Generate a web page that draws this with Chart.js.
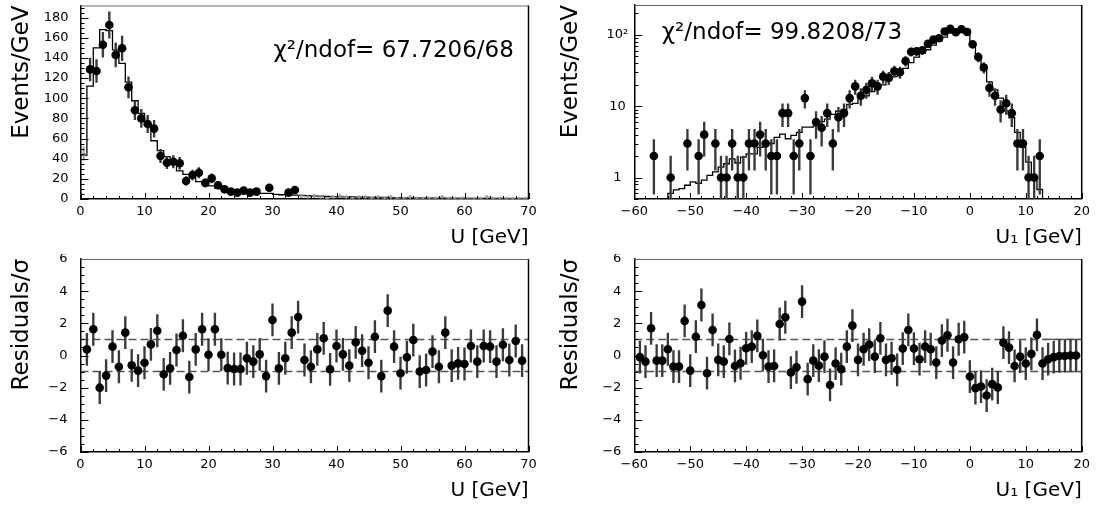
<!DOCTYPE html>
<html>
<head>
<meta charset="utf-8">
<script src="https://cdn.jsdelivr.net/npm/chart.js@4.4.0/dist/chart.umd.min.js"></script>
<style>
  html, body { margin: 0; padding: 0; background: #fff; }
  #wrap { position: relative; width: 1099px; height: 508px; overflow: hidden; }
  #wrap canvas { position: absolute; }
</style>
</head>
<body>
<div id="wrap">
  <canvas id="uDist"  width="549" height="254" style="left:0;top:0"></canvas>
  <canvas id="u1Dist" width="550" height="254" style="left:549px;top:0"></canvas>
  <canvas id="uRes"   width="549" height="254" style="left:0;top:254px"></canvas>
  <canvas id="u1Res"  width="550" height="254" style="left:549px;top:254px"></canvas>
</div>
<script>
// ---------- U distribution (events per GeV, 1 GeV bins) ----------
const uDataX = [1.5, 2.5, 3.5, 4.5, 5.5, 6.5, 7.5, 8.5, 9.5, 10.5, 11.5, 12.5, 13.5, 14.5, 15.5,
                16.5, 17.5, 18.5, 19.5, 20.5, 21.5, 22.5, 23.5, 24.5, 25.5, 26.5, 27.5, 29.5, 32.5, 33.5];
const uDataY = [128.6, 127, 153, 172.6, 143, 149.5, 110.8, 88, 80, 74.4, 69.8, 42.7, 36, 37, 35.4,
                17.9, 23.8, 26, 16, 20.5, 13.6, 9.6, 7.3, 6.3, 8.3, 6.3, 7.3, 11.2, 6.3, 9];
// low-count bins drawn without markers
const uFaintX = [0.5, 34.5, 35.5, 36.5, 37.5, 38.5, 39.5, 40.5, 41.5, 42.5, 43.5, 44.5, 45.5, 46.5, 47.5,
                 48.5, 49.5, 50.5, 51.5, 52.5, 53.5, 54.5, 55.5, 56.5, 57.5, 58.5, 59.5, 60.5, 61.5,
                 62.5, 63.5, 64.5, 65.5, 66.5, 67.5, 68.5, 69.5];
const uFaintY = [45, 3, 2, 3, 2, 1, 2, 3, 2, 1, 2, 2, 1, 2, 1, 2, 1, 1, 2, 1, 1, 1, 1, 2, 1,
                 1, 1, 1, 1, 1, 2, 1, 1, 1, 1, 1, 1];
// model prediction, bin edges 0..70
const uModelEdge0 = 0;
const uModel = [43.6, 112, 150, 168, 167, 148, 134.6, 116, 97.5, 85, 73.4, 57.8, 48, 42, 35.4,
                28, 24.5, 21, 17.2, 15, 13, 10.6, 9, 8, 7.3, 6.3, 6.3, 5.5, 5.5, 5.5,
                4.5, 4.2, 4, 3.8, 3.5, 3.3, 3, 2.8, 2.6, 2.4, 2.2, 2.1, 2, 1.9, 1.8,
                1.7, 1.6, 1.5, 1.4, 1.3, 1.2, 1.15, 1.1, 1.05, 1, 0.95, 0.9, 0.85, 0.8, 0.75,
                0.7, 0.65, 0.6, 0.58, 0.55, 0.5, 0.47, 0.44, 0.42, 0.4];

// ---------- U1 distribution (log scale) ----------
const u1DataX = [-56.5, -53.5, -50.5, -48.5, -47.5, -45.5, -44.5, -43.5, -42.5, -41.5, -40.5,
                 -39.5, -38.5, -37.5, -36.5, -35.5, -34.5, -33.5, -32.5, -31.5, -30.5, -29.5,
                 -28.5, -27.5, -26.5, -25.5, -24.5, -23.5, -22.5, -21.5, -20.5, -19.5, -18.5,
                 -17.5, -16.5, -15.5, -14.5, -13.5, -12.5, -11.5, -10.5, -9.5, -8.5, -7.5,
                 -6.5, -5.5, -4.5, -3.5, -2.5, -1.5, -0.5, 0.5, 1.5, 2.5, 3.5, 4.5, 5.5, 6.5,
                 7.5, 8.5, 9.5, 10.5, 11.5, 12.5];
const u1DataY = [2, 1, 3, 2, 4, 3, 1, 1, 3, 1, 1,
                 3, 3, 4, 3, 2, 2, 8, 8, 2, 3, 13,
                 2, 6, 5, 8, 3, 7, 8, 13, 19, 14, 17,
                 21, 19, 26, 25, 31, 30, 43, 58, 59, 61, 75,
                 86, 90, 112, 122, 109, 120, 110, 74, 49, 35, 18, 14, 9, 11,
                 8, 3, 3, 1, 1, 2];
// model prediction, bin edges from -54 upward in 1 GeV steps
const u1ModelEdge0 = -54;
const u1Model = [0.6, 0.67, 0.7, 0.78, 0.87, 0.83, 0.92, 1.07, 1.2, 1.4, 1.56, 1.83, 1.6, 1.93,
                 2.15, 2.15, 2.65, 3.1, 3.0, 3.65, 4.06, 3.5, 3.9, 4.3, 5.1, 5.1, 5.3, 6.1,
                 6.6, 7.7, 8.5, 9.0, 10.6, 11, 13, 14, 16, 18, 20, 23, 26, 29, 34, 41,
                 49, 55, 62, 72, 82, 93, 106, 118, 124, 120, 70, 49, 32, 22, 17, 13, 8.6,
                 6.9, 4.3, 2.65, 1.64, 1.02, 0.68, 0.3];

// ---------- residuals ----------
const uResX0 = 1;
const uResid = [0.38, 1.63, -2.0, -1.25, 0.55, -0.7, 1.42, -0.61, -0.94, -0.45, 0.69, 1.54, -1.17,
                -0.8, 0.34, 1.23, -1.34, 0.38, 1.63, 0.05, 1.63, 0.05, -0.78, -0.84, -0.84, -0.17,
                -0.38, 0.07, -1.28, 2.21, -0.8, -0.17, 1.42, 2.39, -0.28, -0.7, 0.38, 1.07, -0.86,
                0.59, 0.07, -0.63, 0.82, 0.3, -0.45, 1.17, -1.28, 2.79, 0.55, -1.1, -0.11, 0.96,
                -1.0, -0.9, 0.24, -0.7, 1.42, -0.63, -0.49, -0.53, 0.59, -0.38, 0.59, 0.55, -0.38,
                0.67, -0.28, 0.9, -0.32];
const u1ResX0 = -59;
const u1Resid = [-0.1, -0.38, 1.69, -0.32, -0.32, 0.39, -0.69, -0.69, 2.15, -0.94, 1.17, 3.14,
                 -1.1, 1.59, -0.27, -0.38, 1.03, -0.65, -0.48, 0.45, 0.55, 1.22, 0.02, -0.69,
                 -0.65, 1.96, 2.38, -1.06, -0.73, 3.35, -1.47, -0.32, -0.63, -0.07, -1.83, -0.5,
                 -0.85, 0.55, 1.86, -0.27, 0.39, 0.68, -0.07, 1.07, -0.27, -0.17, -0.89, 0.43,
                 1.59, 0.43, -0.23, 0.55, 0.39, -0.44, 0.93, 1.26, -0.44, 1.01, 1.14, -1.31,
                 -2.03, -1.93, -2.49, -1.78, -1.99, 0.8, 0.49, -0.65, -0.07, -0.5, 0.1, 1.28,
                 -0.5, -0.23, -0.1, -0.03, -0.03, 0.0, 0.0];
// range of the empty U1 bins, outlined by a solid ±1 band
const u1EmptyRange = [13, 20];

// ---------- tick labels / texts ----------
const uTitleX = 'U [GeV]';
const u1TitleX = 'U\u2081 [GeV]';
const distTitleY = 'Events/GeV';
const resTitleY = 'Residuals/\u03c3';
const uChi2 = '\u03c7\u00b2/ndof= 67.7206/68';
const u1Chi2 = '\u03c7\u00b2/ndof= 99.8208/73';
const logLabels = { 1: '1', 10: '10', 100: '10\u00b2' };

// ---------- helpers ----------
Chart.defaults.font.family = '"DejaVu Sans", sans-serif';
Chart.defaults.color = '#000';
Chart.defaults.devicePixelRatio = 1;

const minus = v => String(v).replace('-', '\u2212');

function points(xs, ys) { return xs.map((x, i) => ({ x: x, y: ys[i] })); }
function poissonBars(xs, ys, floor) {
  return xs.map((x, i) => {
    const s = Math.sqrt(ys[i]);
    return { x: x, y: [Math.max(ys[i] - s, floor), ys[i] + s] };
  });
}
function unitBars(xs, ys) { return xs.map((x, i) => ({ x: x, y: [ys[i] - 1, ys[i] + 1] })); }
function stepPoints(edge0, vals, base) {
  const pts = [{ x: edge0, y: base }];
  vals.forEach((v, i) => pts.push({ x: edge0 + i, y: v }));
  pts.push({ x: edge0 + vals.length, y: vals[vals.length - 1] });
  return pts;
}
function seq(x0, n) { return Array.from({ length: n }, (_, i) => x0 + i); }

// inward tick marks, frame, and fit-statistics text
const frameTicks = {
  id: 'frameTicks',
  afterDatasetsDraw(chart, args, o) {
    const { ctx, chartArea: a, scales: { x, y } } = chart;
    ctx.save();
    ctx.strokeStyle = '#000';
    ctx.lineWidth = 1;
    ctx.beginPath();
    // x axis
    const n0 = Math.ceil(x.min / o.xMinor - 1e-9), n1 = Math.floor(x.max / o.xMinor + 1e-9);
    for (let n = n0; n <= n1; n++) {
      const v = n * o.xMinor;
      const major = Math.abs(v / o.xMajor - Math.round(v / o.xMajor)) < 1e-6;
      const px = Math.round(x.getPixelForValue(v)) + 0.5;
      ctx.moveTo(px, a.bottom);
      ctx.lineTo(px, a.bottom - (major ? o.xMajorLen : o.xMinorLen));
    }
    // y axis
    if (o.yLog) {
      for (let d = Math.floor(Math.log10(y.min)); d <= Math.ceil(Math.log10(y.max)); d++) {
        for (let m = 1; m <= 9; m++) {
          const v = m * Math.pow(10, d);
          if (v < y.min || v > y.max) continue;
          const py = Math.round(y.getPixelForValue(v)) + 0.5;
          ctx.moveTo(a.left, py);
          ctx.lineTo(a.left + (m === 1 ? o.yMajorLen : o.yMinorLen), py);
        }
      }
    } else {
      const m0 = Math.ceil(y.min / o.yMinor - 1e-9), m1 = Math.floor(y.max / o.yMinor + 1e-9);
      for (let n = m0; n <= m1; n++) {
        const v = n * o.yMinor;
        const major = Math.abs(v / o.yMajor - Math.round(v / o.yMajor)) < 1e-6;
        const py = Math.round(y.getPixelForValue(v)) + 0.5;
        ctx.moveTo(a.left, py);
        ctx.lineTo(a.left + (major ? o.yMajorLen : o.yMinorLen), py);
      }
    }
    ctx.stroke();
    // frame: top and right edges
    ctx.strokeStyle = '#666';
    ctx.beginPath();
    ctx.moveTo(a.left, a.top + 0.5);
    ctx.lineTo(a.right, a.top + 0.5);
    ctx.stroke();
    ctx.strokeStyle = '#000';
    ctx.lineWidth = 1.5;
    ctx.beginPath();
    ctx.moveTo(a.right, a.top);
    ctx.lineTo(a.right, a.bottom);
    ctx.stroke();
    if (o.text) {
      ctx.fillStyle = '#000';
      ctx.font = '23px "DejaVu Sans"';
      ctx.textAlign = 'left';
      ctx.textBaseline = 'alphabetic';
      ctx.fillText(o.text, a.left + o.textDx, a.top + o.textDy);
    }
    ctx.restore();
  }
};

function fixY(w) { return s => { s.width = w; s.paddingTop = 0; s.paddingBottom = 0; }; }
function fixX(h) { return s => { s.height = h; s.paddingLeft = 0; s.paddingRight = 0; }; }

function xScale(min, max, title, height, titlePad) {
  return {
    type: 'linear', min: min, max: max, offset: false,
    grid: { display: false, drawTicks: false },
    border: { display: true, color: '#000', width: 1.5 },
    ticks: { stepSize: 10, autoSkip: false, maxRotation: 0, padding: 4.5, font: { size: 13 },
             callback: v => minus(v) },
    title: { display: true, text: title, align: 'end', font: { size: 20 },
             padding: { top: 0, bottom: titlePad } },
    afterFit: fixX(height)
  };
}
function yTitle(text) {
  return { display: true, text: text, align: 'end', font: { size: 23 }, padding: { top: 8.5, bottom: 0 } };
}

const errStyle = { type: 'bar', barThickness: 1.7, backgroundColor: '#3a3a3a', borderWidth: 0,
                   grouped: false, clip: 0, order: 2 };
const dotStyle = { type: 'scatter', showLine: false, pointRadius: 4.3, pointBackgroundColor: '#000',
                   pointBorderWidth: 0, order: 0 };
const stepStyle = { type: 'line', stepped: 'before', pointRadius: 0, borderColor: '#000',
                    borderWidth: 1.3, fill: false, clip: 0, order: 3 };
const dashStyle = { type: 'line', pointRadius: 0, borderColor: '#555', borderWidth: 1.5,
                    borderDash: [8, 4], fill: false, clip: 0, order: 4 };

const common = {
  responsive: false, animation: false, events: [],
  plugins: { legend: { display: false }, tooltip: { enabled: false } }
};

// ---------- U distribution ----------
new Chart(document.getElementById('uDist'), {
  type: 'scatter',
  data: { datasets: [
    Object.assign({}, stepStyle, { data: stepPoints(uModelEdge0, uModel, 0) }),
    Object.assign({}, errStyle, { backgroundColor: '#999', barThickness: 1.2,
      data: poissonBars(uFaintX, uFaintY, 0) }),
    { type: 'scatter', showLine: false, pointStyle: 'line', pointRadius: 3.2, borderColor: '#999',
      pointBorderWidth: 1, order: 1, data: points(uFaintX, uFaintY) },
    Object.assign({}, errStyle, { data: poissonBars(uDataX, uDataY, 0) }),
    Object.assign({}, dotStyle, { data: points(uDataX, uDataY) })
  ] },
  options: Object.assign({}, common, {
    layout: { padding: { left: 0, top: 5.5, right: 20.5, bottom: 0 } },
    scales: {
      x: xScale(0, 70, uTitleX, 55, 4.5),
      y: { type: 'linear', min: 0, max: 192,
           grid: { display: false, drawTicks: false },
           border: { display: true, color: '#000', width: 1.5 },
           ticks: { stepSize: 20, includeBounds: false, autoSkip: false, padding: 12, font: { size: 13 } },
           title: yTitle(distTitleY), afterFit: fixY(80.5) }
    },
    plugins: Object.assign({}, common.plugins, {
      frameTicks: { xMinor: 2, xMajor: 10, xMajorLen: 6, xMinorLen: 3,
                    yMinor: 5, yMajor: 20, yMajorLen: 8, yMinorLen: 4,
                    text: uChi2, textDx: 193, textDy: 51 }
    })
  }),
  plugins: [frameTicks]
});

// ---------- U1 distribution ----------
new Chart(document.getElementById('u1Dist'), {
  type: 'scatter',
  data: { datasets: [
    Object.assign({}, stepStyle, { data: stepPoints(u1ModelEdge0, u1Model, 0.1) }),
    Object.assign({}, errStyle, { data: poissonBars(u1DataX, u1DataY, 0.01) }),
    Object.assign({}, dotStyle, { data: points(u1DataX, u1DataY) })
  ] },
  options: Object.assign({}, common, {
    layout: { padding: { left: 0, top: 5, right: 17.3, bottom: 0 } },
    scales: {
      x: xScale(-60, 20, u1TitleX, 55, 4.5),
      y: { type: 'logarithmic', min: 0.5, max: 263,
           grid: { display: false, drawTicks: false },
           border: { display: true, color: '#000', width: 1.5 },
           ticks: { autoSkip: false, padding: 6, crossAlign: 'center', font: { size: 13 },
                    callback: v => logLabels[v] || '' },
           title: yTitle(distTitleY), afterFit: fixY(85.3) }
    },
    plugins: Object.assign({}, common.plugins, {
      frameTicks: { xMinor: 2, xMajor: 10, xMajorLen: 6, xMinorLen: 3,
                    yLog: true, yMajorLen: 8, yMinorLen: 4,
                    text: u1Chi2, textDx: 27.5, textDy: 33.5 }
    })
  }),
  plugins: [frameTicks]
});

// ---------- residual panels ----------
function residualChart(id, x0, vals, xmin, xmax, title, yWidth, padRight, band) {
  const xs = seq(x0, vals.length);
  const sets = [
    Object.assign({}, dashStyle, { data: [{ x: xmin, y: 1 }, { x: xmax, y: 1 }] }),
    Object.assign({}, dashStyle, { data: [{ x: xmin, y: -1 }, { x: xmax, y: -1 }] }),
    Object.assign({}, errStyle, { data: unitBars(xs, vals) }),
    Object.assign({}, dotStyle, { data: points(xs, vals) })
  ];
  if (band) {
    [1, -1].forEach(lv => sets.push(Object.assign({}, dashStyle, {
      borderDash: [], borderWidth: 1.2, order: 3,
      data: [{ x: band[0], y: lv }, { x: band[1], y: lv }]
    })));
  }
  new Chart(document.getElementById(id), {
    type: 'scatter',
    data: { datasets: sets },
    options: Object.assign({}, common, {
      layout: { padding: { left: 0, top: 5, right: padRight, bottom: 0 } },
      scales: {
        x: xScale(xmin, xmax, title, 56, 5.5),
        y: { type: 'linear', min: -6, max: 6,
             grid: { display: false, drawTicks: false },
             border: { display: true, color: '#000', width: 1.5 },
             ticks: { stepSize: 2, autoSkip: false, padding: 13, font: { size: 13 },
                      callback: v => minus(v) },
             title: yTitle(resTitleY), afterFit: fixY(yWidth) }
      },
      plugins: Object.assign({}, common.plugins, {
        frameTicks: { xMinor: 2, xMajor: 10, xMajorLen: 6, xMinorLen: 3,
                      yMinor: 0.5, yMajor: 2, yMajorLen: 8, yMinorLen: 4 }
      })
    }),
    plugins: [frameTicks]
  });
}
residualChart('uRes', uResX0, uResid, 0, 70, uTitleX, 80.5, 20.5, null);
residualChart('u1Res', u1ResX0, u1Resid, -60, 20, u1TitleX, 85.3, 17.3, u1EmptyRange);
</script>
</body>
</html>
